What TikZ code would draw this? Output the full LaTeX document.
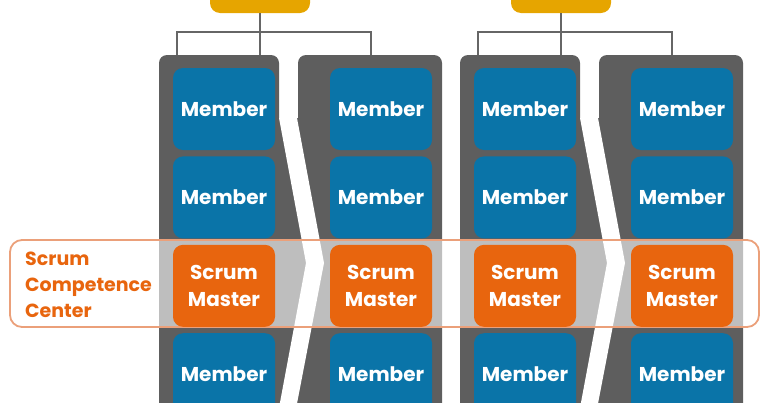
\documentclass[tikz,border=0pt]{standalone}
\usepackage{fontspec}
\setmainfont{Poppins}
\usetikzlibrary{positioning}
\definecolor{TeamBlue}{RGB}{10,116,168}
\definecolor{MasterOrange}{RGB}{232,101,14}
\definecolor{ColGray}{RGB}{94,94,94}
\definecolor{OwnerYellow}{RGB}{230,165,0}
\definecolor{LinkGray}{RGB}{102,102,102}
\definecolor{BandPeach}{RGB}{235,160,122}
\tikzset{
  member/.style={fill=TeamBlue,rounded corners=10pt,
                 minimum width=102pt,minimum height=82pt,
                 text=white,font=\fontsize{20}{27}\selectfont\bfseries,align=center},
  master/.style={member,fill=MasterOrange},
  owner/.style={fill=OwnerYellow,rounded corners=10pt,
                minimum width=100pt,minimum height=50pt},
  colbox/.style={fill=ColGray,rounded corners=8pt},
  band/.style={draw=BandPeach,line width=1.8pt,fill=white,fill opacity=0.6,
               rounded corners=12pt,minimum width=749pt,minimum height=87pt},
  scctext/.style={text=MasterOrange,font=\fontsize{19}{26}\selectfont\bfseries,
                  align=left,inner sep=0pt},
  link/.style={draw=LinkGray,line width=2.6pt},
}

\begin{document}
\begin{tikzpicture}[x=1pt,y=-1pt]
  \clip (0,0) rectangle (768,402);
  % team columns
  \fill[colbox] (159,55) rectangle (279,440);
  \fill[colbox] (298,55) rectangle (442,440);
  \fill[ColGray] (279,118) rectangle (330,440);
  \fill[white] (279,118) -- (306,263) -- (273,440) -- (290,440) -- (324,263) -- (297,118) -- cycle;
  \fill[colbox] (460,55) rectangle (580,440);
  \fill[colbox] (599,55) rectangle (743,440);
  \fill[ColGray] (580,118) rectangle (631,440);
  \fill[white] (580,118) -- (607,263) -- (574,440) -- (591,440) -- (625,263) -- (598,118) -- cycle;
  % competence center band
  \node[band] (scc) at (384.5,283.5) {};
  \node[scctext,anchor=west] (scclabel) at (25,285) {Scrum\\Competence\\Center};
  % members
  \node[member] (m11) at (224,109) {Member};
  \node[member,below=6pt of m11] (m12) {Member};
  \node[master,below=6pt of m12] (sm1) {Scrum\\Master};
  \node[member,below=6pt of sm1] (m13) {Member};
  \node[member] (m21) at (381,109) {Member};
  \node[member,below=6pt of m21] (m22) {Member};
  \node[master,below=6pt of m22] (sm2) {Scrum\\Master};
  \node[member,below=6pt of sm2] (m23) {Member};
  \node[member] (m31) at (525,109) {Member};
  \node[member,below=6pt of m31] (m32) {Member};
  \node[master,below=6pt of m32] (sm3) {Scrum\\Master};
  \node[member,below=6pt of sm3] (m33) {Member};
  \node[member] (m41) at (682,109) {Member};
  \node[member,below=6pt of m41] (m42) {Member};
  \node[master,below=6pt of m42] (sm4) {Scrum\\Master};
  \node[member,below=6pt of sm4] (m43) {Member};
  % owners and links
  \node[owner] (po1) at (260,-12) {};
  \node[owner] (po2) at (561,-12) {};
  \coordinate (t1a) at (177,55); \coordinate (t1b) at (371,55);
  \coordinate (t2a) at (478,55); \coordinate (t2b) at (672,55);
  \draw[link] (po1.south) -- (po1.south |- t1a);
  \draw[link] (t1a) -- ++(0,-23) -| (t1b);
  \draw[link] (po2.south) -- (po2.south |- t2a);
  \draw[link] (t2a) -- ++(0,-23) -| (t2b);
\end{tikzpicture}
\end{document}
